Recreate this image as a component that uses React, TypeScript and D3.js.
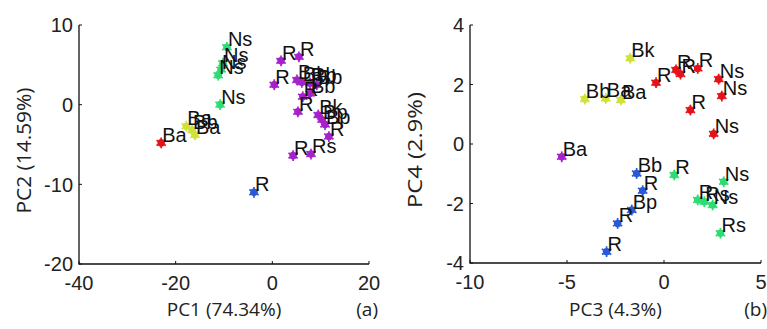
import { useEffect } from 'react'
import * as d3 from 'd3'

// panel (a): PC1 vs PC2
const pc1 = [-9.4, -10.2, -10.6, -11.2, -10.8, -17.8, -16.6, -16.0, -23.0, -3.8, 1.8, 5.5, 0.4, 5.1, 6.1, 7.8, 9.2, 6.3, 7.8, 5.3, 9.5, 10.3, 10.9, 11.7, 4.3, 8.0]
const pc2 = [7.2, 5.2, 4.4, 3.7, 0.0, -2.7, -3.2, -3.8, -4.8, -11.0, 5.5, 6.0, 2.5, 3.1, 2.8, 2.7, 2.5, 1.0, 1.4, -0.9, -1.3, -1.9, -2.5, -4.0, -6.4, -6.2]
const labelsA = ['Ns', 'Ns', 'Ns', 'Ns', 'Ns', 'Ba', 'Bb', 'Ba', 'Ba', 'R', 'R', 'R', 'R', 'Ba', 'Bb', 'Rb', 'Bb', 'R', 'Bb', 'R', 'Bk', 'Bp', 'Bp', 'R', 'R', 'Rs']
const groupA = ['g', 'g', 'g', 'g', 'g', 'y', 'y', 'y', 'r', 'b', 'p', 'p', 'p', 'p', 'p', 'p', 'p', 'p', 'p', 'p', 'p', 'p', 'p', 'p', 'p', 'p']

// panel (b): PC3 vs PC4
const pc3 = [-0.41, 0.62, 0.85, 1.74, 2.82, 2.98, 1.36, 2.56, -1.74, -4.08, -3.0, -2.22, -5.27, -1.41, -1.10, -1.66, -2.39, -2.96, 0.53, 1.74, 2.08, 2.51, 3.08, 2.91]
const pc4 = [2.06, 2.49, 2.35, 2.54, 2.18, 1.61, 1.14, 0.34, 2.88, 1.51, 1.53, 1.48, -0.43, -0.99, -1.57, -2.22, -2.67, -3.62, -1.04, -1.88, -1.94, -2.05, -1.27, -3.0]
const labelsB = ['R', 'R', 'R', 'R', 'Ns', 'Ns', 'R', 'Ns', 'Bk', 'Bb', 'Ba', 'Ba', 'Ba', 'Bb', 'R', 'Bp', 'R', 'R', 'R', 'R', 'Rs', 'Ns', 'Ns', 'Rs']
const groupB = ['r', 'r', 'r', 'r', 'r', 'r', 'r', 'r', 'y', 'y', 'y', 'y', 'p', 'b', 'b', 'b', 'b', 'b', 'g', 'g', 'g', 'g', 'g', 'g']

const ticksA_x = [-40, -20, 0, 20]
const ticksA_y = [-20, -10, 0, 10]
const ticksB_x = [-10, -5, 0, 5]
const ticksB_y = [-4, -2, 0, 2, 4]

const colors: Record<string, string> = {
  g: '#2fdc74',
  y: '#cfe23c',
  r: '#e3141c',
  b: '#2a5ad6',
  p: '#a622cc',
}

const tickFont = "'Liberation Sans', Arial, sans-serif"
const labelFont = "'Open Sans', sans-serif"

function Marker({ cx, cy, color }: { cx: number; cy: number; color: string }) {
  const spokes = d3.range(6).map((i) => (i * Math.PI) / 3 + Math.PI / 6)
  return (
    <g>
      <circle cx={cx} cy={cy} r={3.8} fill={color} />
      {spokes.map((a, i) => (
        <line
          key={i}
          x1={cx}
          y1={cy}
          x2={cx + Math.cos(a) * 5.4}
          y2={cy + Math.sin(a) * 5.4}
          stroke={color}
          strokeWidth={1.7}
        />
      ))}
    </g>
  )
}

function Panel(props: {
  xs: number[]
  ys: number[]
  labels: string[]
  groups: string[]
  xDomain: [number, number]
  yDomain: [number, number]
  xRange: [number, number]
  yRange: [number, number]
  xTicks: number[]
  yTicks: number[]
  xTitle: string
  yTitle: string
  yTitleLen: number
  tag: string
  tagX: number
}) {
  const x = d3.scaleLinear().domain(props.xDomain).range(props.xRange)
  const y = d3.scaleLinear().domain(props.yDomain).range(props.yRange)
  const [x0, x1] = props.xRange
  const [y0, y1] = props.yRange
  const midX = (x0 + x1) / 2
  const midY = (y0 + y1) / 2
  return (
    <g>
      {props.xs.map((v, i) => (
        <Marker key={i} cx={x(v)} cy={y(props.ys[i])} color={colors[props.groups[i]]} />
      ))}
      {props.xs.map((v, i) => (
        <text
          key={i}
          x={x(v) + 1}
          y={y(props.ys[i]) - 1}
          fontFamily={tickFont}
          fontSize={20}
          fill="#111"
        >
          {props.labels[i]}
        </text>
      ))}
      <path d={`M${x0},${y1}V${y0}H${x1}`} fill="none" stroke="#111" strokeWidth={1.3} />
      {props.xTicks.map((t) => (
        <g key={t}>
          <line x1={x(t)} x2={x(t)} y1={y0} y2={y0 - 3} stroke="#111" />
          <text x={x(t)} y={y0 + 26} textAnchor="middle" fontFamily={tickFont} fontSize={20} fill="#222">
            {t}
          </text>
        </g>
      ))}
      {props.yTicks.map((t) => (
        <g key={t}>
          <line x1={x0} x2={x0 + 3} y1={y(t)} y2={y(t)} stroke="#111" />
          <text
            x={x0 - 6}
            y={y(t)}
            dy="0.36em"
            textAnchor="end"
            fontFamily={tickFont}
            fontSize={20}
            fill="#222"
          >
            {t}
          </text>
        </g>
      ))}
      <text x={midX} y={316} textAnchor="middle" fontFamily={labelFont} fontSize={19} fill="#222">
        {props.xTitle}
      </text>
      <text
        transform={`translate(${x0 - 48},${midY + 6}) rotate(-90)`}
        textAnchor="middle"
        fontFamily={labelFont}
        fontSize={20}
        textLength={props.yTitleLen}
        lengthAdjust="spacingAndGlyphs"
        fill="#222"
      >
        {props.yTitle}
      </text>
      <text x={props.tagX} y={316} textAnchor="end" fontFamily={labelFont} fontSize={19} fill="#222">
        {props.tag}
      </text>
    </g>
  )
}

export default function App() {
  useEffect(() => {
    document.body.style.margin = '0'
  }, [])
  return (
    <svg width={767} height={329} style={{ display: 'block', background: '#fff' }}>
      <Panel
        xs={pc1}
        ys={pc2}
        labels={labelsA}
        groups={groupA}
        xDomain={[-40, 20]}
        yDomain={[-20, 10]}
        xRange={[79, 369]}
        yRange={[264, 25]}
        xTicks={ticksA_x}
        yTicks={ticksA_y}
        xTitle="PC1 (74.34%)"
        yTitle="PC2 (14.59%)"
        yTitleLen={126}
        tag="(a)"
        tagX={378}
      />
      <Panel
        xs={pc3}
        ys={pc4}
        labels={labelsB}
        groups={groupB}
        xDomain={[-10, 5]}
        yDomain={[-4, 4]}
        xRange={[470, 761]}
        yRange={[263, 25]}
        xTicks={ticksB_x}
        yTicks={ticksB_y}
        xTitle="PC3 (4.3%)"
        yTitle="PC4 (2.9%)"
        yTitleLen={116}
        tag="(b)"
        tagX={767}
      />
    </svg>
  )
}
